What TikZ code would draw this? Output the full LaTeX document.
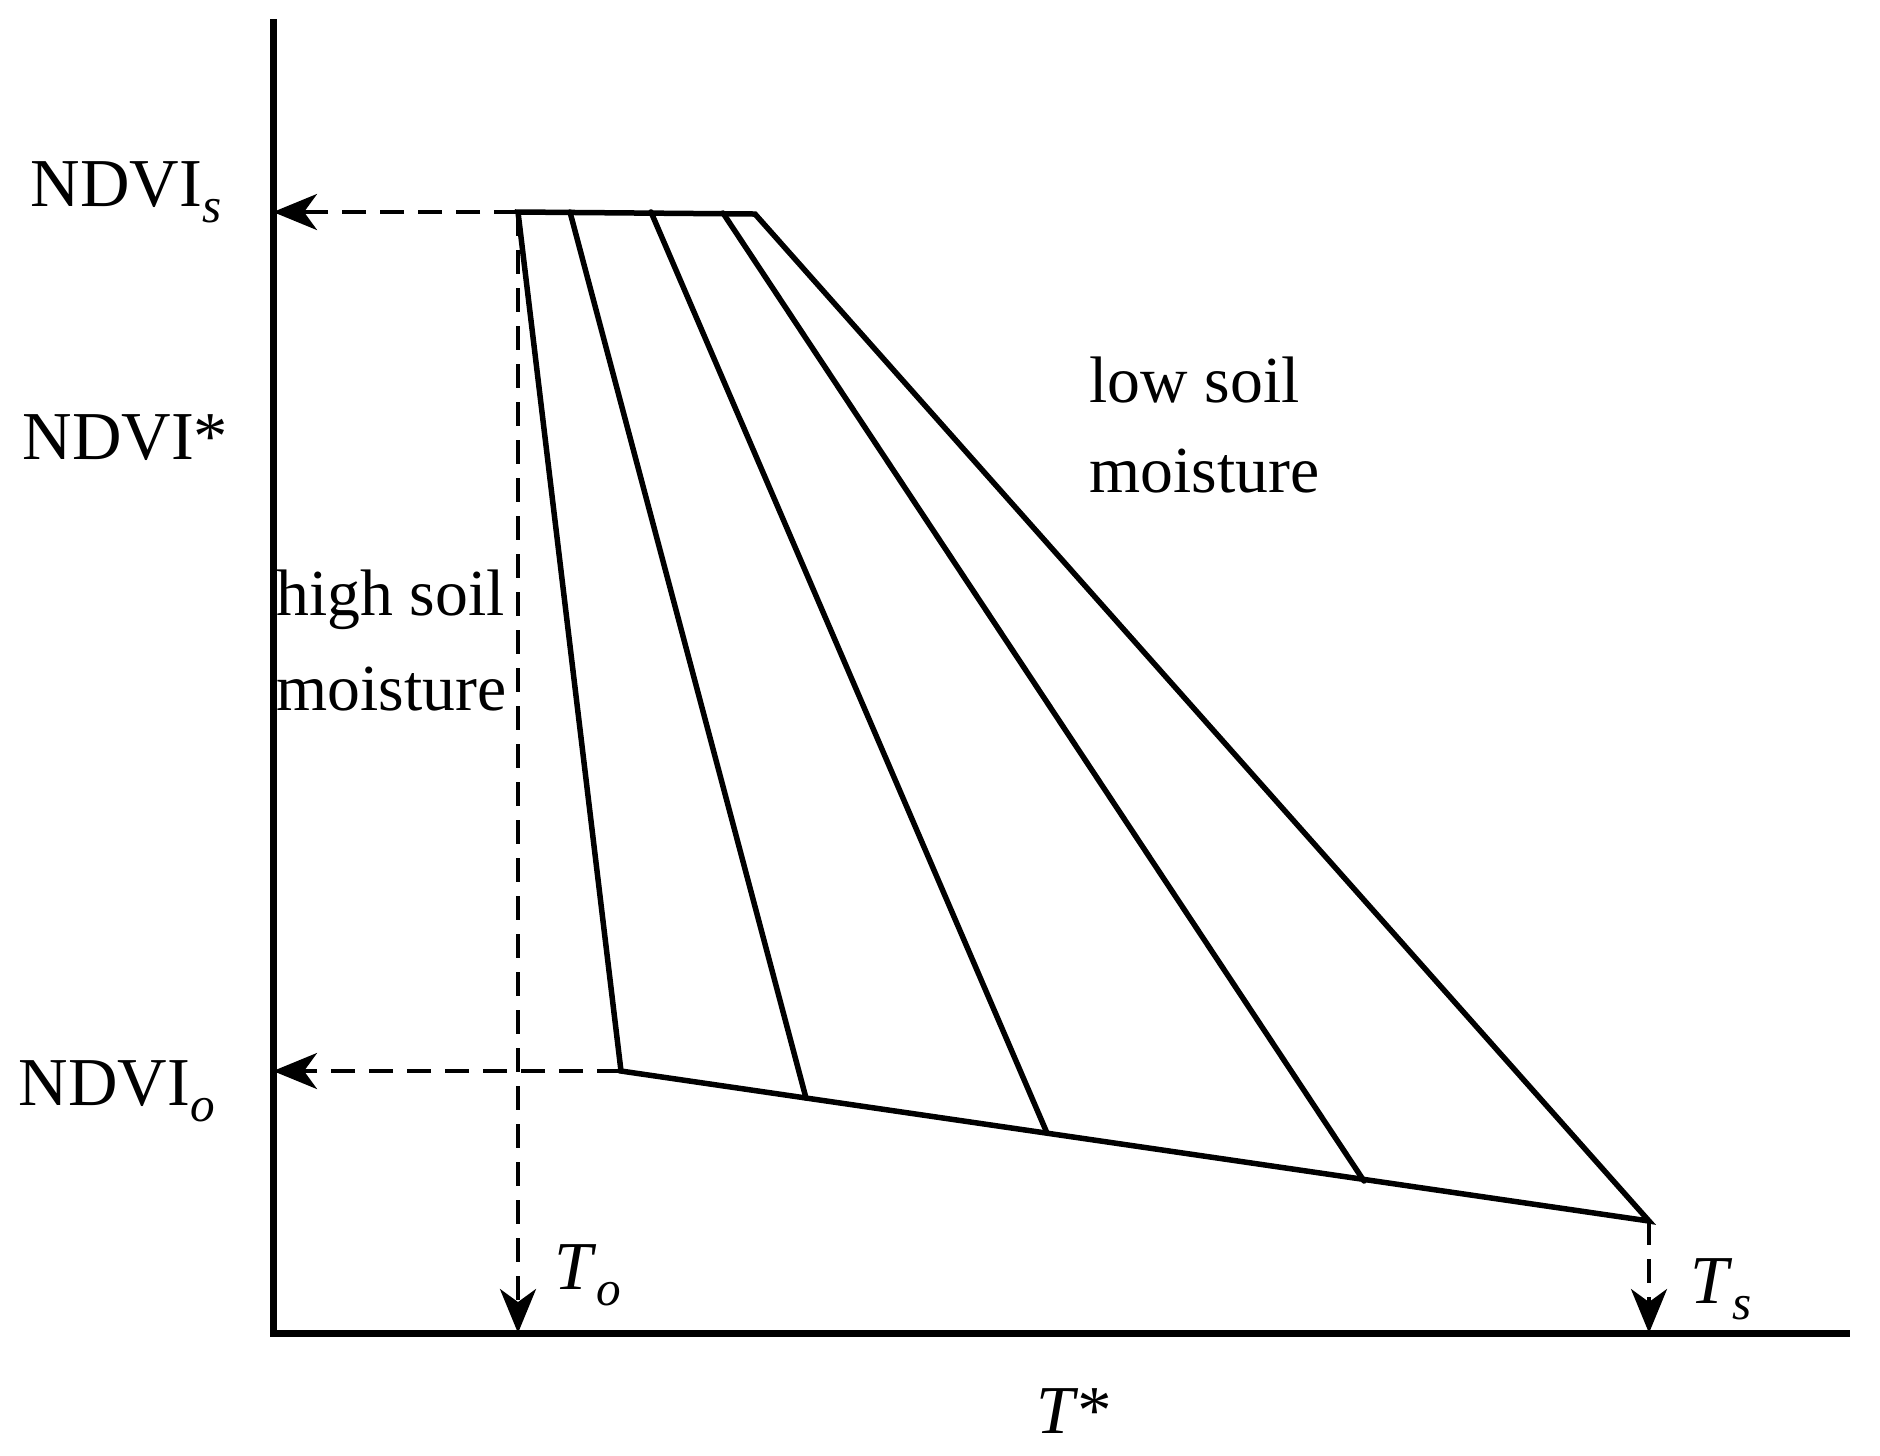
\documentclass[tikz,border=0pt]{standalone}
\usepackage{fontspec}
\setmainfont{Liberation Serif}
\usetikzlibrary{arrows.meta}
\newcommand{\lowsub}[1]{\raisebox{-4.6pt}{\fontsize{14}{14}\selectfont\textit{#1}}}
\begin{document}
\begin{tikzpicture}[x=0.1mm,y=-0.1mm,
  axis/.style={line width=0.7mm, line cap=rect, line join=miter},
  edge/.style={line width=0.55mm, line join=miter, line cap=round},
  guide/.style={line width=0.4mm, dash pattern=on 2.4mm off 1.4mm,
    -{Stealth[length=4.4mm,width=3.6mm,inset=1.3mm]}},
  lbl/.style={inner sep=0pt, anchor=base west, font=\fontsize{19.5}{23}\selectfont},
  txt/.style={inner sep=0pt, anchor=base west, font=\fontsize{18.7}{22}\selectfont}]
\useasboundingbox (0,0) rectangle (1880,1455);
% axes
\coordinate (O) at (273,1333);
\coordinate (ytop) at (273,22);
\coordinate (xend) at (1846,1333);
\draw[axis] (ytop) -- (O) -- (xend);
% trapezoid corners
\coordinate (A) at (518,212);
\coordinate (B) at (570,212);
\coordinate (C) at (651,212);
\coordinate (D) at (723,213);
\coordinate (E) at (755,214);
\coordinate (F) at (621,1071);
\coordinate (G) at (806,1098);
\coordinate (H) at (1047,1133);
\coordinate (I) at (1364,1181);
\coordinate (J) at (1649,1221);
% projections onto axes
\coordinate (As) at (273,212);
\coordinate (Fo) at (273,1071);
\coordinate (Ao) at (518,1333);
\coordinate (Js) at (1649,1333);
% guides
\draw[guide] (A) -- (As);
\draw[guide] (F) -- (Fo);
\draw[guide] (A) -- (Ao);
\draw[guide] (J) -- (Js);
% trapezoid
\draw[edge] (A) -- (E) -- (J) -- (F) -- cycle;
\draw[edge] (B) -- (G);
\draw[edge] (C) -- (H);
\draw[edge] (D) -- (I);
% labels
\node[lbl] (ndvis) at (30,206) {NDVI\lowsub{s}};
\node[lbl] (ndvistar) at (22,459) {NDVI*};
\node[lbl] (ndvio) at (18,1105) {NDVI\lowsub{o}};
\node[lbl] (To) at (554,1289) {\textit{T}\lowsub{o}};
\node[lbl] (Ts) at (1690,1303) {\textit{T}\lowsub{s}};
\node[lbl] (Tstar) at (1036,1433) {\textit{T*}};
\node[txt] (low1) at (1089,402) {low soil};
\node[txt] (low2) at (1089,492) {moisture};
\node[txt] (high1) at (276,615) {high soil};
\node[txt] (high2) at (276,710) {moisture};
\end{tikzpicture}
\end{document}
